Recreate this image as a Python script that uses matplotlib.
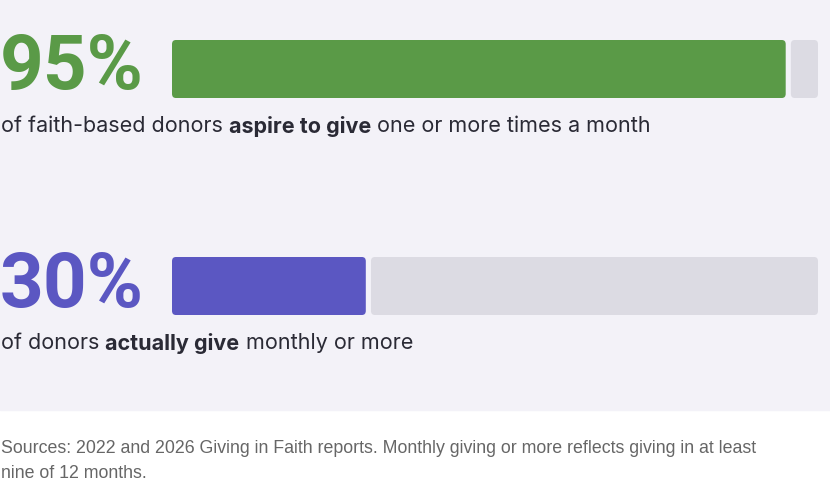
import matplotlib
matplotlib.use("Agg")
import matplotlib.pyplot as plt
from matplotlib.patches import Rectangle, FancyBboxPatch

pcts = [95, 30]
labels = ["95%", "30%"]
colors = ["#5a9a47", "#5b57c2"]
caption_parts = [
    [("of faith-based donors ", "normal"), ("aspire to give", "bold"), (" one or more times a month", "normal")],
    [("of donors ", "normal"), ("actually give", "bold"), (" monthly or more", "normal")],
]
source = "Sources: 2022 and 2026 Giving in Faith reports. Monthly giving or more reflects giving in at least\nnine of 12 months."

W, H = 830, 494
fig = plt.figure(figsize=(W/100, H/100), dpi=100)
fig.patch.set_facecolor("white")
fig.add_artist(Rectangle((0, 1-410/H), 1, 410/H, transform=fig.transFigure, color="#f3f2f8", zorder=0))

FONT = "Inter"
ax = fig.add_axes([172/W, 1-320/H, (818-172)/W, (320-36)/H])
ax.set_xlim(0, 100)
ax.set_ylim(284, 0)
ax.axis("off")
ax.patch.set_alpha(0)
centers = [33, 250]
gap = 0.8
for i, (p, c) in enumerate(zip(pcts, colors)):
    y = centers[i]
    ax.add_patch(FancyBboxPatch((0, y-29), p, 58, boxstyle="round,pad=0,rounding_size=0.6",
                                mutation_aspect=7, color=c, lw=0))
    ax.add_patch(FancyBboxPatch((p+gap, y-29), 100-p-gap, 58, boxstyle="round,pad=0,rounding_size=0.6",
                                mutation_aspect=7, color="#dcdbe3", lw=0))

big_y = [69, 286]
cap_y = [126, 343]
fig.canvas.draw()
r = fig.canvas.get_renderer()
for i in range(2):
    fig.text(0/W, 1-big_y[i]/H, labels[i], color=colors[i], fontsize=55, fontweight="bold",
             family="Roboto", va="center", ha="left")
    x = 1/W
    for txt, wt in caption_parts[i]:
        t = fig.text(x, 1-cap_y[i]/H, txt, fontsize=15.5, fontweight=wt, family=FONT,
                     color="#2a2a35", va="center", ha="left")
        x += t.get_window_extent(r).width / W
fig.text(1/W, 1-440/H, source, fontsize=12.8, family="Liberation Sans", color="#666666",
         va="top", ha="left", linespacing=1.6)
fig.savefig("out.png", dpi=100)
